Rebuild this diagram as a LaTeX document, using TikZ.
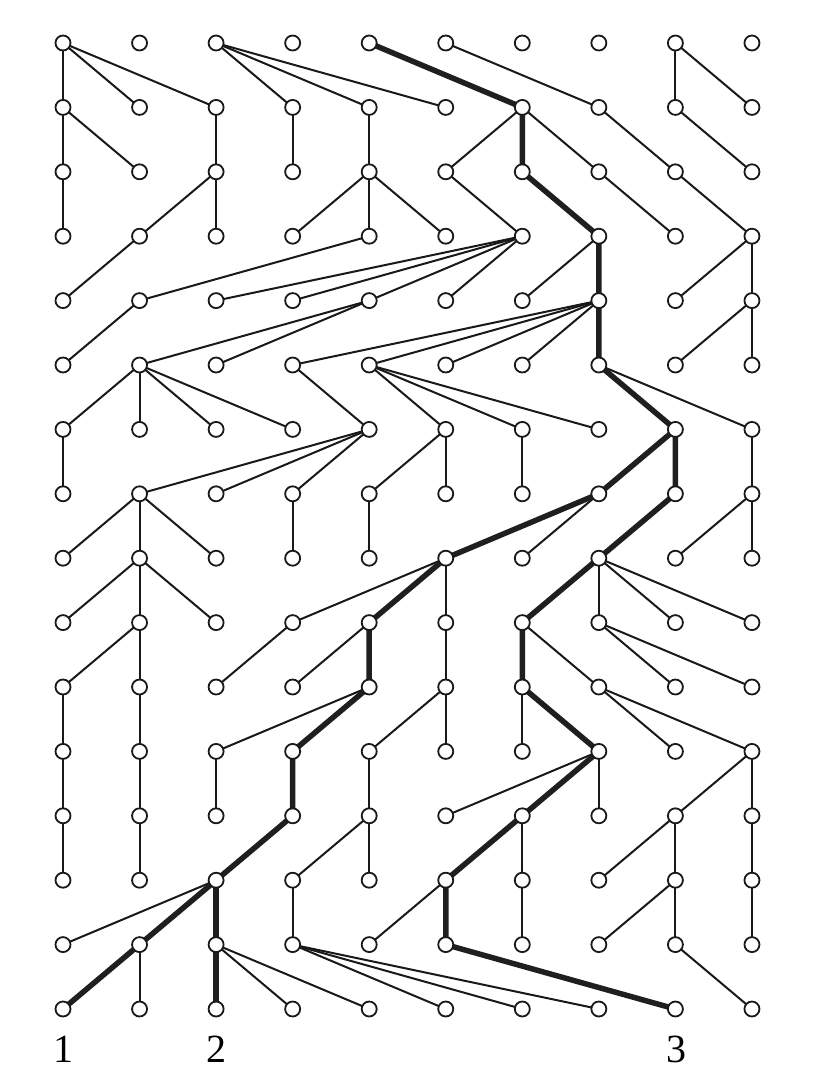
\documentclass[tikz,border=0pt]{standalone}
\usepackage{fontspec}
\setmainfont{Liberation Serif}
\usetikzlibrary{backgrounds}
\begin{document}
\begin{tikzpicture}[x=1pt,y=1pt,
  dot/.style={circle, draw=black!90, fill=white, line width=1.8pt, inner sep=0pt, minimum size=15pt},
  tie/.style={draw=black!90, line width=2pt},
  heavy/.style={draw=black!88, line width=5.5pt, line join=round},
  lab/.style={anchor=base, inner sep=0pt, font=\fontsize{40}{40}\selectfont}]
\useasboundingbox (0,0) rectangle (814,-1080);
% grid of individuals
\foreach \r in {0,...,15}
  \foreach \c in {0,...,9}
    \node[dot] (n\r-\c) at ({63+76.55*\c},{-(43+64.4*\r)}) {};
% parent of each individual (column in the row above)
\begin{scope}[on background layer]
\foreach \r/\plist in {
  1/{0,0,0,2,2,2,4,5,8,8},
  2/{0,0,2,3,4,6,6,6,7,8},
  3/{0,2,2,4,4,4,5,6,7,8},
  4/{1,4,6,6,6,6,7,7,9,9},
  5/{1,4,4,7,7,7,7,7,9,9},
  6/{1,1,1,1,3,4,4,4,7,7},
  7/{0,4,4,4,5,5,6,8,8,9},
  8/{1,1,1,3,4,7,7,8,9,9},
  9/{1,1,1,5,5,5,7,7,7,7},
  10/{1,1,3,4,4,5,6,6,7,7},
  11/{0,1,4,4,5,5,6,6,7,7},
  12/{0,1,2,3,4,7,7,7,9,9},
  13/{0,1,3,4,4,6,6,8,8,9},
  14/{2,2,2,3,5,5,6,8,8,9},
  15/{1,1,2,2,2,3,3,3,5,8}}{
  \pgfmathtruncatemacro\q{\r-1}
  \foreach \p [count=\c from 0] in \plist {
    \draw[tie] (n\r-\c.center) -- (n\q-\p.center);
  }
}
% ancestral lineages of the sampled individuals 1, 2, 3
\draw[heavy] (n0-4.center) -- (n1-6.center) -- (n2-6.center) -- (n3-7.center)
  -- (n4-7.center) -- (n5-7.center) -- (n6-8.center) -- (n7-7.center)
  -- (n8-5.center) -- (n9-4.center) -- (n10-4.center) -- (n11-3.center)
  -- (n12-3.center) -- (n13-2.center) -- (n14-1.center) -- (n15-0.center);
\draw[heavy] (n13-2.center) -- (n14-2.center) -- (n15-2.center);
\draw[heavy] (n6-8.center) -- (n7-8.center) -- (n8-7.center) -- (n9-6.center)
  -- (n10-6.center) -- (n11-7.center) -- (n12-6.center) -- (n13-5.center)
  -- (n14-5.center) -- (n15-8.center);
\end{scope}
% labels
\node[lab] (l1) at (63,-1062) {1};
\node[lab] (l2) at (216,-1062) {2};
\node[lab] (l3) at (676,-1062) {3};
\end{tikzpicture}
\end{document}
